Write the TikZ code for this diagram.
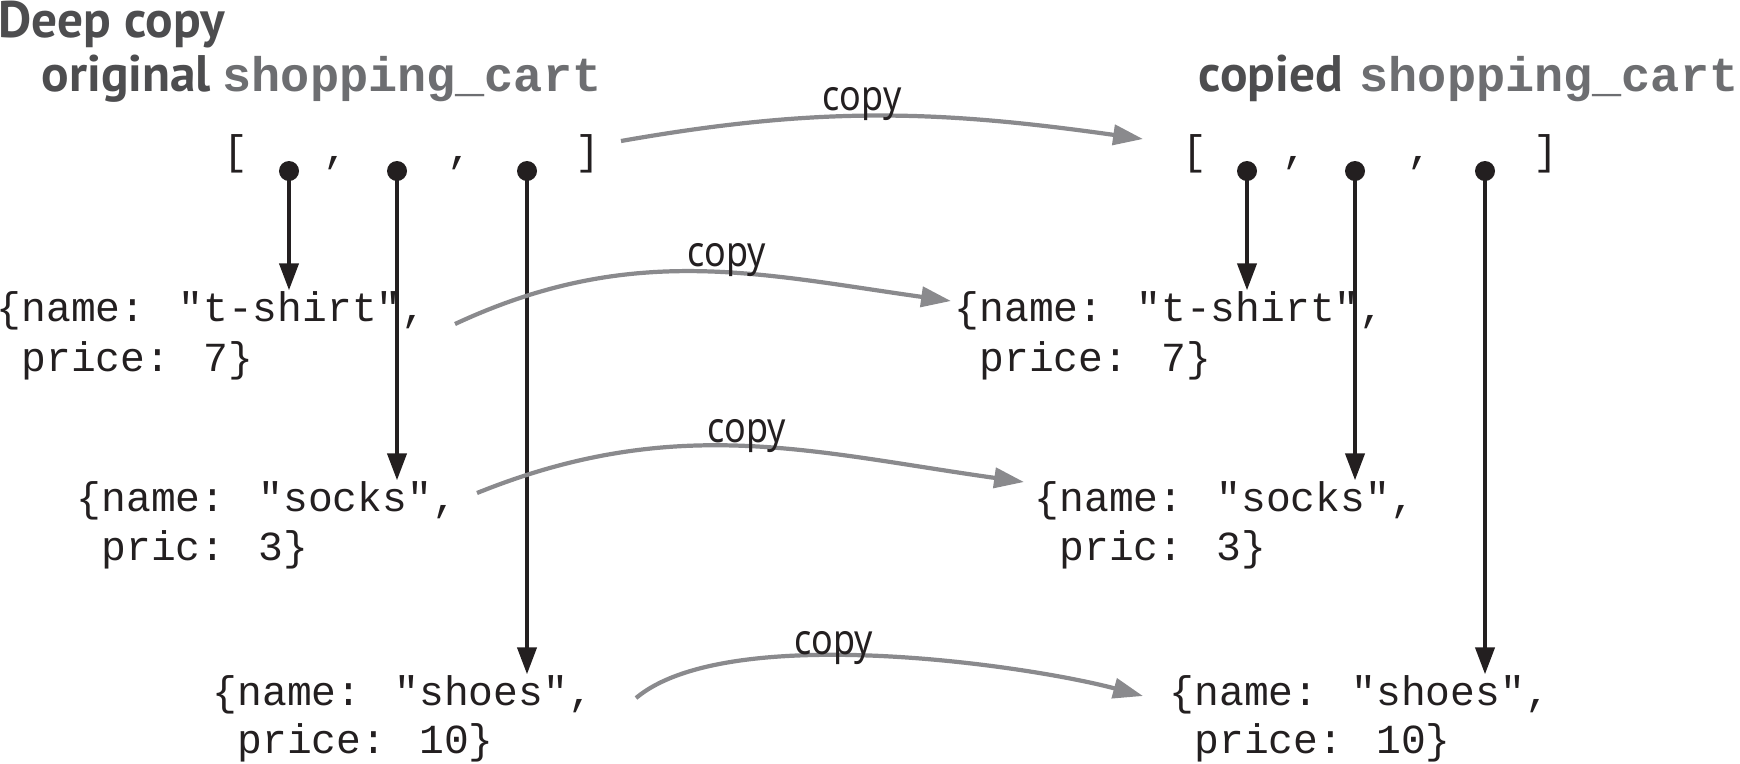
\documentclass[tikz,border=0pt]{standalone}
\usepackage{fontspec}
\setmainfont{Liberation Sans}
\newfontfamily\codefont{Liberation Mono}
\newfontfamily\headfont{PT Sans}
\newfontfamily\handfont[FakeStretch=0.85]{Noto Sans}
\usetikzlibrary{arrows.meta}
\definecolor{ink}{HTML}{231F20}
\definecolor{headgray}{HTML}{4D4D4F}
\definecolor{codegray}{HTML}{6D6E71}
\definecolor{arrgray}{HTML}{8A8A8D}
\begin{document}
\begin{tikzpicture}[x=0.01cm,y=-0.01cm,
 code/.style={inner sep=0pt, anchor=base west, text=ink, font=\codefont\fontsize{11.75pt}{14pt}\selectfont},
 brk/.style={inner sep=0pt, anchor=base, text=ink, font=\codefont\fontsize{11.75pt}{14pt}\selectfont},
 head/.style={inner sep=0pt, anchor=base west, text=headgray, font=\headfont\bfseries\fontsize{14.6pt}{16pt}\selectfont},
 cartname/.style={inner sep=0pt, anchor=base west, text=codegray, font=\codefont\bfseries\fontsize{13.8pt}{16pt}\selectfont},
 ptr/.style={circle, fill=ink, inner sep=0pt, minimum size=0.2cm},
 ref/.style={draw=ink, line width=1.2pt, -{Triangle[length=7.7pt,width=5.4pt]}},
 cp/.style={draw=arrgray, line width=1.2pt, -{Triangle[length=8.5pt,width=5.7pt]}},
 cplabel/.style={inner sep=0pt, anchor=base, text=ink, font=\handfont\fontsize{12pt}{14pt}\selectfont},
]
\useasboundingbox (0,0) rectangle (1740,763);

% headings
\node[head] (title) at (-2,37) {Deep copy};
\node[head] (orig) at (41,91) {original};
\node[cartname] (ocart) at (222,91) {shopping\_cart};
\node[head] (copied) at (1198,91) {copied};
\node[cartname] (ccart) at (1359,91) {shopping\_cart};

% left list
\node[brk] (llb) at (236,164) {[};
\node[brk] (lc1) at (336,162) {,};
\node[brk] (lc2) at (460,162) {,};
\node[brk] (lrb) at (588,164) {]};
\node[ptr] (ld1) at (289,171) {};
\node[ptr] (ld2) at (397,171) {};
\node[ptr] (ld3) at (527,171) {};

% right list
\node[brk] (rlb) at (1195,164) {[};
\node[brk] (rc1) at (1295,162) {,};
\node[brk] (rc2) at (1420,162) {,};
\node[brk] (rrb) at (1546,164) {]};
\node[ptr] (rd1) at (1247,171) {};
\node[ptr] (rd2) at (1355,171) {};
\node[ptr] (rd3) at (1485,171) {};

% left objects
\node[code] (lts) at (-4,321) {\{name: "t-shirt",};
\node[code] (ltsp) at (-4,371) {\hphantom{\{}price: 7\}};
\node[code] (lso) at (76,511) {\{name: "socks",};
\node[code] (lsop) at (76,560) {\hphantom{\{}pric: 3\}};
\node[code] (lsh) at (212,705) {\{name: "shoes",};
\node[code] (lshp) at (212,753) {\hphantom{\{}price: 10\}};

% right objects
\node[code] (rts) at (954,321) {\{name: "t-shirt",};
\node[code] (rtsp) at (954,371) {\hphantom{\{}price: 7\}};
\node[code] (rso) at (1034,511) {\{name: "socks",};
\node[code] (rsop) at (1034,560) {\hphantom{\{}pric: 3\}};
\node[code] (rsh) at (1169,705) {\{name: "shoes",};
\node[code] (rshp) at (1169,753) {\hphantom{\{}price: 10\}};

% references
\draw[ref] (ld1.center) -- (ld1 |- lts.north);
\draw[ref] (ld2.center) -- (ld2 |- lso.north);
\draw[ref] (ld3.center) -- (ld3 |- lsh.north);
\draw[ref] (rd1.center) -- (rd1 |- rts.north);
\draw[ref] (rd2.center) -- (rd2 |- rso.north);
\draw[ref] (rd3.center) -- (rd3 |- rsh.north);

% copy arrows
\coordinate (c1a) at (621,141);
\coordinate (c1b) at (1143,139);
\coordinate (c2a) at (455,324);
\coordinate (c2b) at (951,301);
\coordinate (c3a) at (477,493);
\coordinate (c3b) at (1024,482);
\coordinate (c4a) at (636,698);
\coordinate (c4b) at (1143,696);
\draw[cp] (c1a) to[out=10,in=172] (c1b);
\draw[cp] (c2a) to[out=25,in=172] (c2b);
\draw[cp] (c3a) to[out=22,in=172] (c3b);
\draw[cp] (c4a) to[out=40,in=165,looseness=0.6] (c4b);

\node[cplabel] (l1) at (862,110) {copy};
\node[cplabel] (l2) at (727,266) {copy};
\node[cplabel] (l3) at (747,442) {copy};
\node[cplabel] (l4) at (834,654) {copy};
\end{tikzpicture}
\end{document}
